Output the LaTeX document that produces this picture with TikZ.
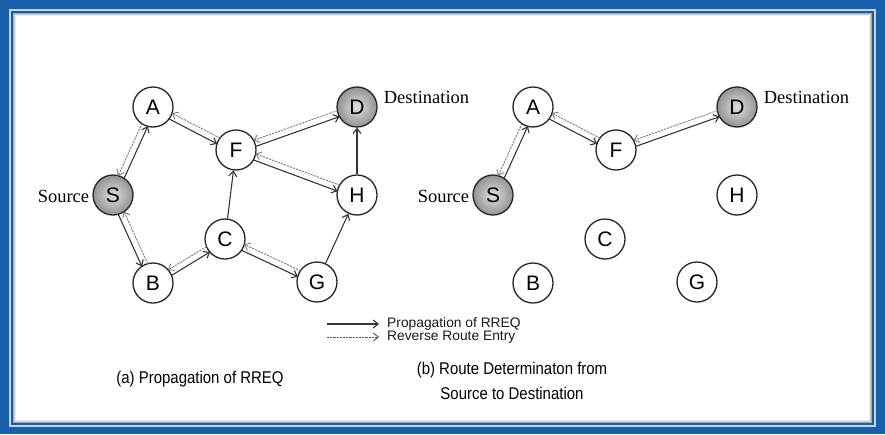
\documentclass[tikz,border=0pt]{standalone}
\usepackage{fontspec}
\setmainfont{Liberation Serif}
\newfontfamily\nodefont{Liberation Sans}
\newfontfamily\capfont[FakeStretch=0.88]{Liberation Sans}
\usetikzlibrary{arrows.meta,calc}
\definecolor{frameblue}{RGB}{24,94,170}
\definecolor{framelight}{RGB}{190,215,240}
\definecolor{edgedark}{RGB}{55,55,55}
\definecolor{edgelight}{RGB}{125,125,125}
\tikzset{
  vtx/.style={circle, draw=black!85, line width=1.3pt, minimum size=40pt, inner sep=0pt, fill=white,
    font=\nodefont\fontsize{21}{21}\selectfont},
  endvtx/.style={vtx, shading=radial, inner color=gray!25, outer color=gray!85},
  tipstyle/.style={-{Straight Barb[length=5pt,width=8pt]}},
  prop/.style={draw=edgedark, line width=1.1pt, tipstyle},
  rev/.style={draw=edgelight, line width=0.9pt, dash pattern=on 2.2pt off 1pt, tipstyle},
  cut/.style={shorten <=19.5pt, shorten >=19.5pt},
  sdlabel/.style={font=\fontsize{18.5}{18.5}\selectfont, inner sep=1pt},
  legtext/.style={font=\nodefont\fontsize{13.8}{13.8}\selectfont, anchor=west, inner sep=0pt, text=black!90},
  captext/.style={font=\capfont\fontsize{17}{25}\selectfont, align=center, inner sep=0pt},
}
\newcommand\myoff{3.2pt}
\newcommand\mypair[2]{%
  \draw[prop,cut] ($(#1)!\myoff!-90:(#2)$) -- ($(#2)!\myoff!90:(#1)$);
  \draw[rev,cut] ($(#2)!\myoff!-90:(#1)$) -- ($(#1)!\myoff!90:(#2)$);
}
\begin{document}
\begin{tikzpicture}[x=1pt,y=-1pt]
\useasboundingbox (0,0) rectangle (885,434);
% frame
\fill[frameblue] (0,0) rectangle (885,434);
\fill[framelight] (9,9) rectangle (876,427);
\fill[frameblue] (11,11) rectangle (874,425);
\fill[white] (13,13) rectangle (872,423);
\draw[black!35, line width=1pt] (13.5,13.5) rectangle (871.5,422.5);
\draw[black!18, line width=1pt] (14.5,14.5) rectangle (870.5,421.5);
\draw[black!8, line width=1pt] (15.5,15.5) rectangle (869.5,420.5);

% ---------- left diagram ----------
\node[vtx] (A) at (153,107) {A};
\node[endvtx] (D) at (357,107) {D};
\node[vtx] (F) at (236,150) {F};
\node[endvtx] (S) at (113,195) {S};
\node[vtx] (H) at (357,195) {H};
\node[vtx] (C) at (225,239) {C};
\node[vtx] (B) at (153,283) {B};
\node[vtx] (G) at (317,282) {G};
\node[sdlabel, anchor=east] (srcL) at ($(S.west)+(-2,1)$) {Source};
\node[sdlabel, anchor=west] (dstL) at ($(D.east)+(5,-10)$) {Destination};

\mypair{S}{A}
\mypair{A}{F}
\mypair{S}{B}
\mypair{B}{C}
\mypair{C}{G}
\mypair{F}{D}
\mypair{F}{H}
\draw[prop] (C) -- (F);
\draw[prop] (G) -- (H);
\draw[prop] (H) -- (D);

% ---------- right diagram ----------
\node[vtx] (A2) at (533,107) {A};
\node[endvtx] (D2) at (737,107) {D};
\node[vtx] (F2) at (616,150) {F};
\node[endvtx] (S2) at (493,195) {S};
\node[vtx] (H2) at (737,195) {H};
\node[vtx] (C2) at (605,239) {C};
\node[vtx] (B2) at (533,283) {B};
\node[vtx] (G2) at (697,282) {G};
\node[sdlabel, anchor=east] (srcR) at ($(S2.west)+(-2,1)$) {Source};
\node[sdlabel, anchor=west] (dstR) at ($(D2.east)+(5,-10)$) {Destination};

\mypair{S2}{A2}
\mypair{A2}{F2}
\mypair{F2}{D2}

% ---------- legend ----------
\coordinate (l1a) at (327,324);
\coordinate (l1b) at (379,324);
\coordinate (l2a) at (327,337);
\coordinate (l2b) at (379,337);
\draw[prop] (l1a) -- (l1b);
\draw[rev, draw=black!65] (l2a) -- (l2b);
\node[legtext] (leg1) at (387,324) {Propagation of RREQ};
\node[legtext] (leg2) at (387,337) {Reverse Route Entry};

% ---------- captions ----------
\node[captext] (capa) at (200,379) {(a) Propagation of RREQ};
\node[captext] (capb) at (512,381) {(b) Route Determinaton from\\Source to Destination};
\end{tikzpicture}
\end{document}
